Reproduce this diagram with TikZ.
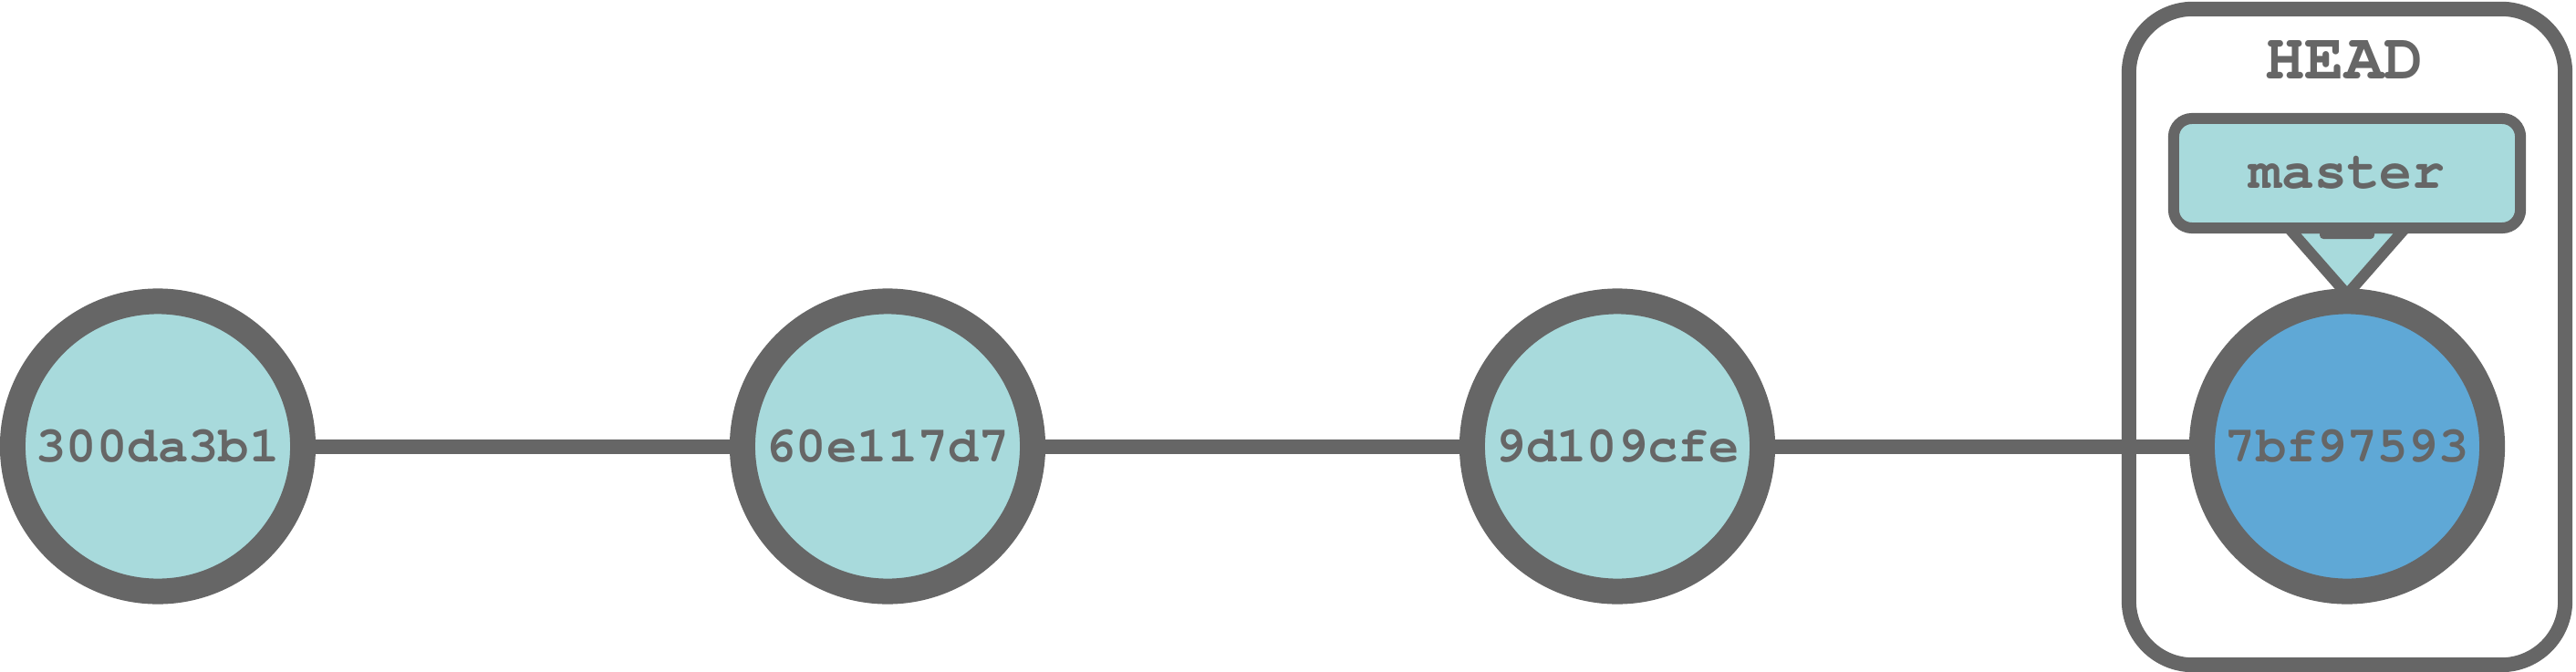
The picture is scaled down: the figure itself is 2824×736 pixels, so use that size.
\documentclass[tikz,border=0pt]{standalone}
\usepackage[T1]{fontenc}
\usetikzlibrary{backgrounds}
\definecolor{gitgray}{HTML}{666666}
\definecolor{gitteal}{HTML}{A8DADC}
\definecolor{gitblue}{HTML}{5FA8D6}
\newcommand{\gitfont}[1]{\fontfamily{pcr}\bfseries\fontsize{#1}{#1}\selectfont}

\begin{document}
\begin{tikzpicture}[x=0.01cm, y=-0.01cm,
  commit/.style={circle, draw=gitgray, line width=0.28cm, fill=gitteal,
    minimum size=3.18cm, inner sep=0pt, text=gitgray, font=\gitfont{15.8}},
  link/.style={draw=gitgray, line width=0.16cm},
  branch/.style={rectangle, rounded corners=0.2cm, draw=gitgray,
    line width=0.12cm, fill=gitteal, minimum width=3.8cm,
    minimum height=1.2cm, text=gitgray, font=\gitfont{17}}]
  \useasboundingbox (0, 0) rectangle (2824, 736);
  % HEAD frame and its label
  \node (headbox) [draw=gitgray, line width=0.16cm, rounded corners=0.7cm,
    minimum width=4.78cm, minimum height=7.19cm] at (2573, 369.5) {};
  \node (headlabel) [text=gitgray, font=\gitfont{20.5}] at (2570, 66) {HEAD};
  % Draw commits
  \node (c1) [commit] at (173, 489.5) {300da3b1};
  \node (c2) [commit] at (973, 489.5) {60e117d7};
  \node (c3) [commit] at (1773, 489.5) {9d109cfe};
  \node (c4) [commit, fill=gitblue] at (2573, 489.5) {7bf97593};
  % Draw branch label
  \node (master) [branch] at (2573, 190) {master};
  \fill [gitgray, rounded corners=0.04cm] (2543, 244) rectangle (2603, 262);
  % links and pointer go behind the nodes
  \begin{scope}[on background layer]
    \draw [link] (c1) -- (c2);
    \draw [link] (c2) -- (c3);
    \draw [link] (c3) -- (c4);
    \draw [gitgray, line width=0.12cm, fill=gitteal, line join=round]
      (2509, 250) -- (2637, 250) -- (2573, 323) -- cycle;
  \end{scope}
\end{tikzpicture}
\end{document}
